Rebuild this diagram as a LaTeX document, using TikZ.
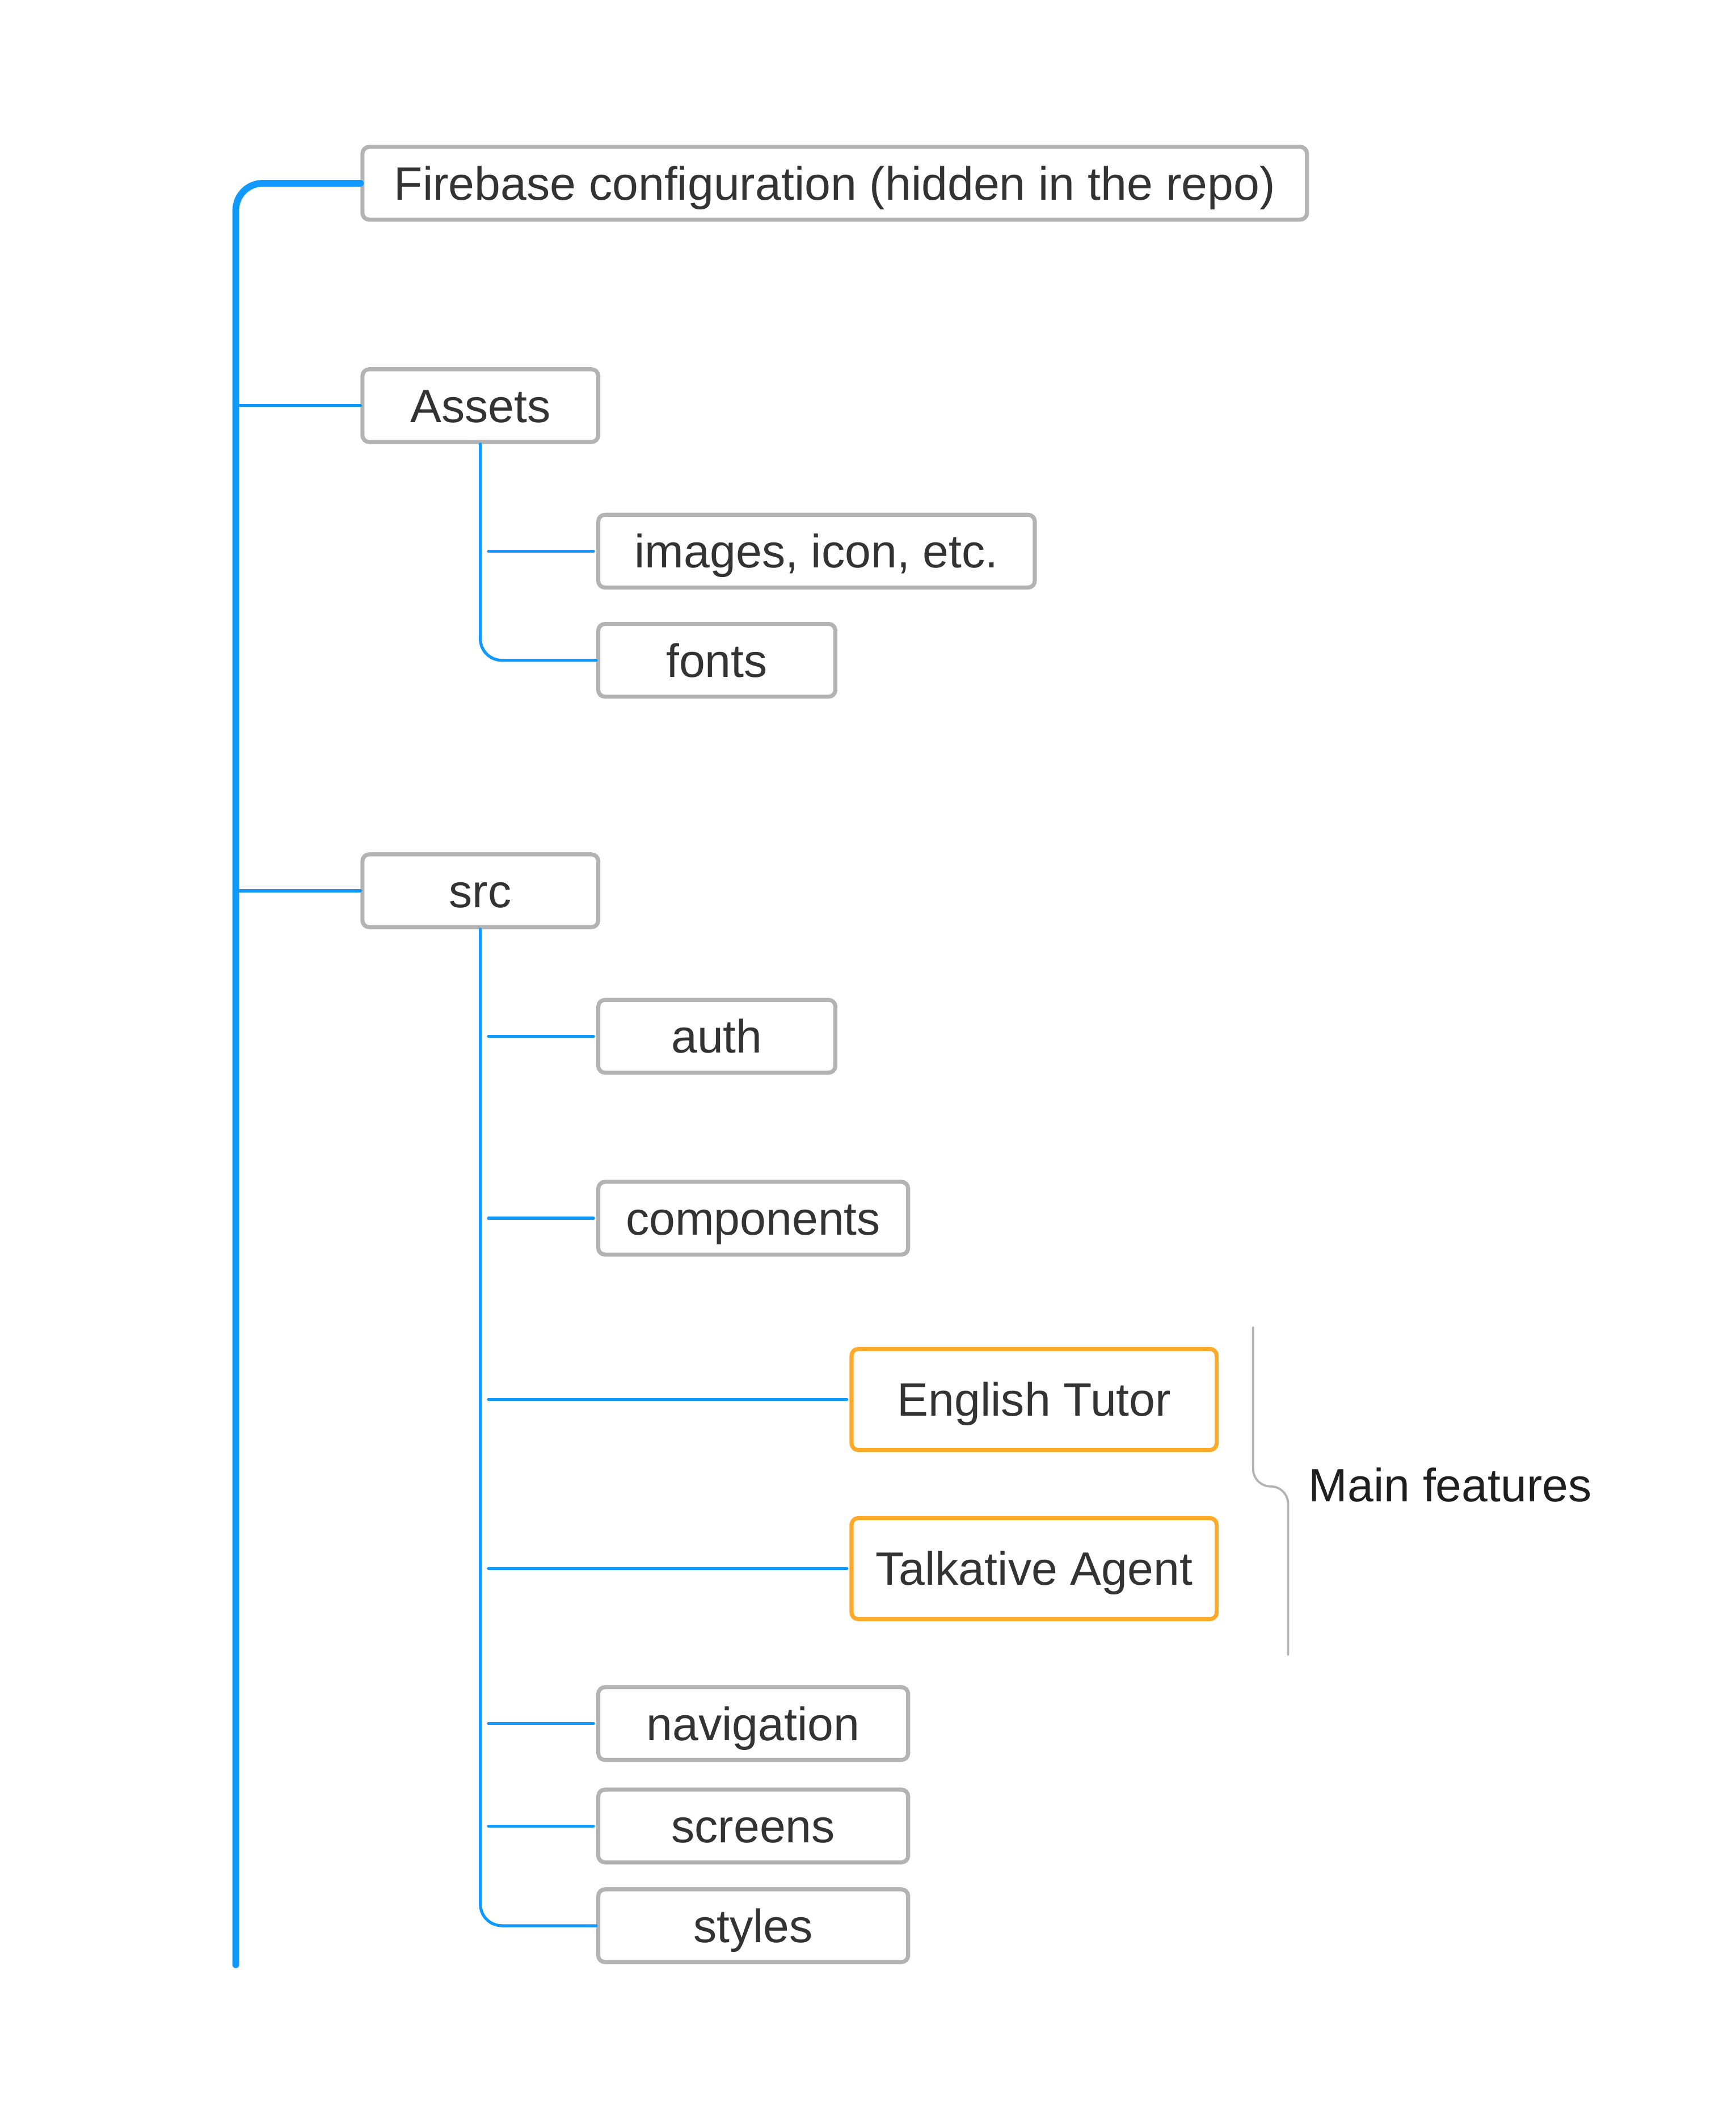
\documentclass[tikz,border=0pt]{standalone}
\usepackage{fontspec}
\setmainfont{Liberation Sans}
\begin{document}
\begin{tikzpicture}[x=1pt, y=1pt]
    % Define sizes
    \def\textSize{34.7}

    \definecolor{lineColour}{HTML}{1199FF}
    \definecolor{borderColour}{HTML}{B3B3B3}
    \definecolor{featureColour}{HTML}{FFA928}
    \definecolor{textColour}{HTML}{333333}

    \tikzset{
        folder/.style={draw=borderColour, line width=3pt, rounded corners=5pt, fill=white,
            text=textColour, minimum height=54pt, inner sep=0pt, text height=24.8pt, text depth=0pt,
            font=\fontsize{\textSize}{40}\selectfont},
        feature/.style={folder, draw=featureColour, minimum height=75pt, minimum width=271pt},
        trunk/.style={lineColour, line width=5pt, line cap=round},
        branch/.style={lineColour, line width=2.2pt, line cap=round},
        bracket/.style={borderColour, line width=1.6pt, line cap=round}
    }

    % Fix page size
    \useasboundingbox (0,0) rectangle (1288,-1568);

    % Draw folder boxes
    \node[folder, minimum width=701pt] (firebase) at (619.5,-136) {Firebase configuration (hidden in the repo)};
    \node[folder, minimum width=175pt] (assets) at (356.5,-301) {Assets};
    \node[folder, minimum width=324pt] (images) at (606,-409) {images, icon, etc.};
    \node[folder, minimum width=176pt] (fonts) at (532,-490) {fonts};
    \node[folder, minimum width=175pt] (src) at (356.5,-661) {src};
    \node[folder, minimum width=176pt] (auth) at (532,-769) {auth};
    \node[folder, minimum width=230pt] (components) at (559,-904) {components};
    \node[feature] (tutor) at (767.5,-1038.5) {English Tutor};
    \node[feature] (agent) at (767.5,-1164) {Talkative Agent};
    \node[folder, minimum width=230pt] (navigation) at (559,-1279) {navigation};
    \node[folder, minimum width=230pt] (screens) at (559,-1355) {screens};
    \node[folder, minimum width=230pt] (styles) at (559,-1429) {styles};

    % Draw main trunk
    \coordinate (trunkEnd) at (175,-1458);
    \draw[trunk, rounded corners=20pt] (firebase.west) -| (trunkEnd);
    \foreach \n in {assets, src}
        \draw[branch] (\n.west) -- (\n.west -| trunkEnd);

    % Draw Assets branches
    \draw[branch, rounded corners=16pt] (assets.south) |- (fonts.west);
    \draw[branch, shorten <=2pt] (images.west) -- ([xshift=6pt]images.west -| assets.south);

    % Draw src branches
    \draw[branch, rounded corners=16pt] (src.south) |- (styles.west);
    \foreach \n in {auth, components, tutor, agent, navigation, screens}
        \draw[branch, shorten <=2pt] (\n.west) -- ([xshift=6pt]\n.west -| src.south);

    % Bracket for main features
    \draw[bracket] (930,-985) -- (930,-1090) arc[start angle=180, end angle=270, radius=13pt]
        arc[start angle=90, end angle=0, radius=13pt] -- (956,-1228);
    \node[anchor=west, inner sep=0pt, text=black!88, font=\fontsize{\textSize}{40}\selectfont] (mainFeatures) at (971,-1102) {Main features};

\end{tikzpicture}
\end{document}
